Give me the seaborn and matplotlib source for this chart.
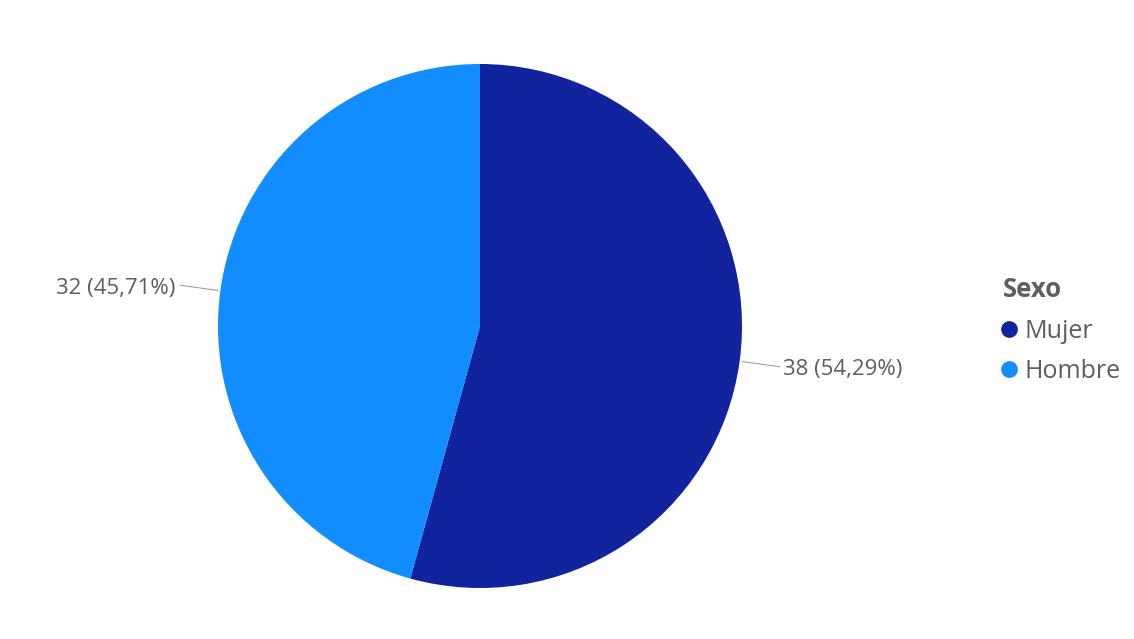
import matplotlib
matplotlib.use("Agg")
import matplotlib.pyplot as plt
from matplotlib.lines import Line2D
import seaborn as sns
import numpy as np

categories = ["Mujer", "Hombre"]
values = [38, 32]
legend_title = "Sexo"

sns.set_theme(style="white")
plt.rcParams['font.family'] = ['Open Sans', 'DejaVu Sans']

colors = ["#12239E", "#118DFF"]
text_color = "#605E5C"

W, H = 1134, 639
fig = plt.figure(figsize=(W / 100, H / 100), dpi=100)
# pie area: x 218..742, y 64..588 (pixels from top)
ax = fig.add_axes([218 / W, (H - 588) / H, 524 / W, 524 / H])
wedges, _ = ax.pie(values, colors=colors, startangle=90, counterclock=False,
                   radius=1, wedgeprops=dict(linewidth=0))
ax.set_xlim(-1, 1)
ax.set_ylim(-1, 1)
ax.set_aspect("equal")
ax.axis("off")

total = sum(values)
for w, v in zip(wedges, values):
    ang = np.deg2rad((w.theta1 + w.theta2) / 2)
    x0, y0 = 1.01 * np.cos(ang), 1.01 * np.sin(ang)
    x1, y1 = 1.155 * np.cos(ang), 1.16 * np.sin(ang)
    pct = f"{100 * v / total:.2f}".replace(".", ",")
    ha = "left" if np.cos(ang) > 0 else "right"
    ax.plot([x0, x1], [y0, y1], color="#A0A0A0", lw=0.8, clip_on=False)
    ax.text(x1 + (0.012 if ha == "left" else -0.02), y1 - 0.012, f"{v} ({pct}%)",
            ha=ha, va="center", fontsize=16, color=text_color, clip_on=False)

handles = [Line2D([0], [0], marker="o", color="none", markerfacecolor=c,
                  markeredgecolor=c, markersize=11) for c in colors]
leg = fig.legend(handles, categories, title=legend_title, loc="upper left",
                 bbox_to_anchor=(1003 / W, 1 - 276 / H), frameon=False,
                 fontsize=18, title_fontproperties={"weight": "bold", "size": 18.5},
                 alignment="left", handlelength=0.5, handletextpad=0.35,
                 labelspacing=0.62, borderpad=0, borderaxespad=0)
for t in leg.get_texts():
    t.set_color(text_color)
leg.get_title().set_color(text_color)

fig.savefig("out.png", dpi=100)
